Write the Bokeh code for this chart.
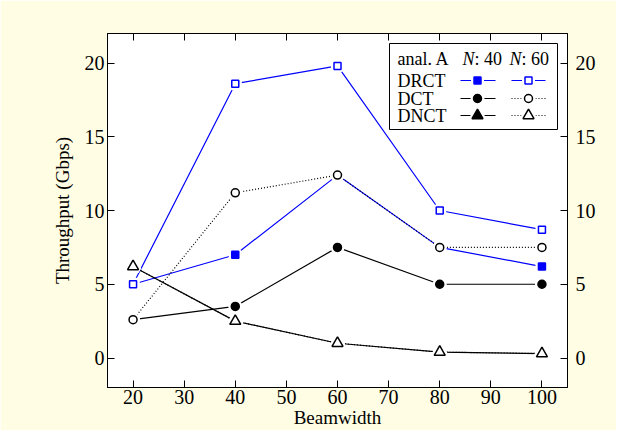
from bokeh.plotting import figure
from bokeh.models import Range1d, LinearAxis, FixedTicker
from bokeh.core.properties import value
from bokeh.embed import file_html
from bokeh.resources import INLINE

# ---- data ----
beamwidth = [20, 40, 60, 80, 100]
drct_n40 = [5.0, 7.0, 12.4, 7.5, 6.2]
drct_n60 = [5.0, 18.6, 19.8, 10.0, 8.7]
dct_n40 = [2.6, 3.5, 7.5, 5.0, 5.0]
dct_n60 = [2.6, 11.2, 12.4, 7.5, 7.5]
dnct_n40 = [6.2, 2.5, 1.0, 0.4, 0.3]
dnct_n60 = [6.2, 2.5, 1.0, 0.4, 0.3]
x_ticks = [20, 30, 40, 50, 60, 70, 80, 90, 100]
y_ticks = [0, 5, 10, 15, 20]

FONT = "Liberation Serif"
BG = "#FFFDE3"
BLUE = "#0000FF"

FRAME_H = 354
p = figure(width=616, height=430, output_backend="svg", toolbar_location=None,
           x_range=Range1d(15, 105), y_range=Range1d(-2, 22),
           min_border_left=107, min_border_right=49, min_border_top=33, min_border_bottom=43,
           background_fill_color="white", border_fill_color=BG,
           outline_line_color="black", outline_line_width=1)
p.xgrid.visible = False
p.ygrid.visible = False

# frame-pixel ranges for the legend decorations
p.extra_x_ranges = {"fx": Range1d(0, 460)}
p.extra_y_ranges = {"fy": Range1d(0, FRAME_H)}

def style_axis(ax):
    ax.axis_line_color = "black"
    ax.major_tick_in = 7
    ax.major_tick_out = 0
    ax.minor_tick_line_color = None
    ax.major_tick_line_color = "black"
    ax.major_label_text_font = FONT
    ax.major_label_text_font_size = "20px"
    ax.major_label_text_color = "black"
    ax.axis_label_text_font = FONT
    ax.axis_label_text_font_size = "19px"
    ax.axis_label_text_font_style = "normal"
    ax.axis_label_text_color = "black"

xa = p.xaxis[0]
xa.ticker = FixedTicker(ticks=x_ticks)
xa.axis_label = "Beamwidth"
style_axis(xa)
xa.major_label_standoff = 2
xa.axis_label_standoff = 0

ya = p.yaxis[0]
ya.ticker = FixedTicker(ticks=y_ticks)
ya.axis_label = "Throughput (Gbps)"
style_axis(ya)
ya.major_label_standoff = 3
ya.axis_label_standoff = 9

top = LinearAxis(ticker=FixedTicker(ticks=x_ticks))
style_axis(top)
top.major_label_overrides = {t: "" for t in x_ticks}
top.major_label_text_font_size = "10px"
top.major_label_standoff = 0
p.add_layout(top, "above")

right = LinearAxis(ticker=FixedTicker(ticks=y_ticks))
style_axis(right)
right.major_label_standoff = 8
p.add_layout(right, "right")

def draw_markers(xs, ys, color, marker, size, filled, **kw):
    p.scatter(xs, ys, marker=marker, size=size, fill_color="white",
              line_color="white", line_width=6, **kw)
    p.scatter(xs, ys, marker=marker, size=size,
              fill_color=color if filled else "white",
              line_color=color, line_width=1.5, **kw)

def series(xs, ys, color, dash, marker, size, filled, **kw):
    p.line(xs, ys, line_color=color, line_width=1.2, line_dash=dash, **kw)
    draw_markers(xs, ys, color, marker, size, filled, **kw)

series(beamwidth, drct_n40, BLUE, "solid", "square", 7, True)
series(beamwidth, drct_n60, BLUE, "solid", "square", 7, False)
series(beamwidth, dct_n40, "black", "solid", "circle", 8, True)
series(beamwidth, dct_n60, "black", "1 2", "circle", 8, False)
series(beamwidth, dnct_n40, "black", "solid", "triangle", 11, True)
series(beamwidth, dnct_n60, "black", "1 2", "triangle", 11, False)

# ---- legend box (frame pixel coordinates, measured from frame bottom) ----
L = dict(x_range_name="fx", y_range_name="fy")
top_off = FRAME_H  # frame top in fy units
p.quad(left=[282], right=[450], bottom=[top_off - 96], top=[top_off - 10],
       fill_color="white", line_color="black", line_width=1, **L)

tf = value(FONT)
TS = "18px"
hy = top_off - 25
p.text(x=[290], y=[hy], text=["anal. A"], text_font=tf, text_font_size=TS,
       text_baseline="middle", text_color="black", **L)
p.text(x=[355, 402], y=[hy, hy], text=["N", "N"], text_font=tf, text_font_size=TS,
       text_font_style="italic", text_baseline="middle", text_color="black", **L)
p.text(x=[367, 414], y=[hy, hy], text=[": 40", ": 60"], text_font=tf, text_font_size=TS,
       text_baseline="middle", text_color="black", **L)

rows_y = [top_off - 47, top_off - 65, top_off - 82]
names = ["DRCT", "DCT", "DNCT"]
p.text(x=[290] * 3, y=rows_y, text=names, text_font=tf, text_font_size=TS,
       text_baseline="middle", text_color="black", **L)

legend_styles = [
    (BLUE, "solid", "square", 7, True), (BLUE, "solid", "square", 7, False),
    ("black", "solid", "circle", 8, True), ("black", "1 2", "circle", 8, False),
    ("black", "solid", "triangle", 11, True), ("black", "1 2", "triangle", 11, False),
]
for i, (c, d, m, s, f) in enumerate(legend_styles):
    ry = rows_y[i // 2]
    x0, x1, xm = (353, 388, 370) if i % 2 == 0 else (404, 438, 421)
    p.line([x0, x1], [ry, ry], line_color=c, line_width=1.2, line_dash=d, **L)
    draw_markers([xm], [ry], c, m, s, f, **L)

html = file_html(p, INLINE)
html = html.replace("<body>", '<body style="background-color:%s;">' % BG, 1)
open("out.html", "w").write(html)
